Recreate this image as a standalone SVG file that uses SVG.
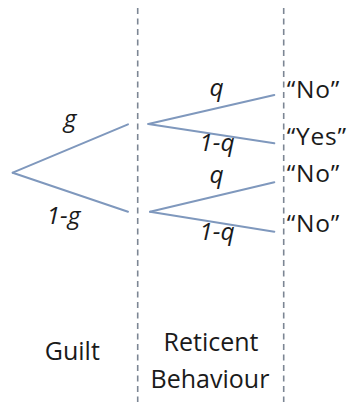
<svg xmlns="http://www.w3.org/2000/svg" width="350" height="402" viewBox="0 0 350 402">
<style>
.div{stroke:#7c8694;stroke-width:1.6;stroke-dasharray:6 4.5;fill:none}
.br{stroke:#7f98bd;stroke-width:2;fill:none;stroke-linecap:round}
.lab{font-family:"Open Sans","Liberation Sans",sans-serif;font-size:25px;fill:#1a1a1a}
.it{font-family:"Open Sans","Liberation Sans",sans-serif;font-style:italic;font-size:24.5px;fill:#1a1a1a;text-anchor:middle}
.q{font-family:"Open Sans","Liberation Sans",sans-serif;font-size:24.5px;letter-spacing:0.8px;fill:#1a1a1a}
</style>
<rect width="350" height="402" fill="#ffffff"/>
<g id="dividers">
<line class="div" x1="137.7" y1="8" x2="137.7" y2="402"/>
<line class="div" x1="283.7" y1="8" x2="283.7" y2="402"/>
</g>
<g id="connectors">
<line class="br" x1="12.7" y1="172.7" x2="128" y2="124.3"/>
<line class="br" x1="12.7" y1="172.7" x2="128" y2="211.7"/>
<line class="br" x1="148.3" y1="124" x2="274.3" y2="95"/>
<line class="br" x1="148.3" y1="124" x2="274.3" y2="143.3"/>
<line class="br" x1="150" y1="211.7" x2="274.3" y2="182.3"/>
<line class="br" x1="150" y1="211.7" x2="274.3" y2="231.7"/>
</g>
<g id="branch-labels">
<text class="it" x="70" y="127">g</text>
<text class="it" x="63.5" y="224">1-g</text>
<text class="it" x="216.5" y="96">q</text>
<text class="it" x="217" y="151">1-q</text>
<text class="it" x="216.5" y="182.5">q</text>
<text class="it" x="217" y="240">1-q</text>
</g>
<g id="outcome-1"><text class="q" x="286.7" y="97.7">“No”</text></g>
<g id="outcome-2"><text class="q" x="286.7" y="144.5">“Yes”</text></g>
<g id="outcome-3"><text class="q" x="286.7" y="181.7">“No”</text></g>
<g id="outcome-4"><text class="q" x="286.7" y="231.7">“No”</text></g>
<g id="guilt"><text class="lab" x="72.3" y="360" text-anchor="middle">Guilt</text></g>
<g id="reticent-behaviour">
<text class="lab" x="211" y="350.7" text-anchor="middle">Reticent</text>
<text class="lab" x="210" y="388.3" text-anchor="middle">Behaviour</text>
</g>
</svg>
